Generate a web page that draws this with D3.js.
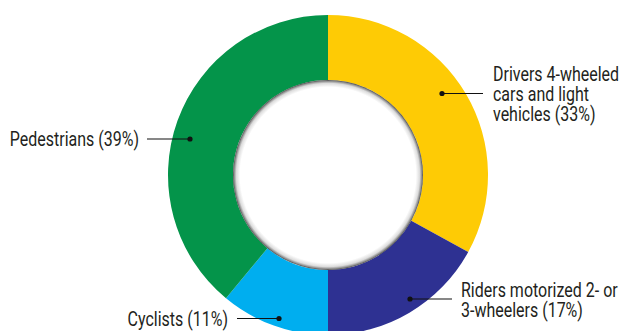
<!DOCTYPE html>
<html>
<head>
<meta charset="utf-8">
<script src="https://cdn.jsdelivr.net/npm/d3@7"></script>
<style>
  html, body { margin: 0; padding: 0; background: #fff; }
  svg { display: block; }
  text { font-family: Roboto, "Liberation Sans", sans-serif; fill: #231f20; }
</style>
</head>
<body>
<svg id="chart" width="626" height="331"></svg>
<script>
// Road traffic deaths by type of road user (share, %)
const categories = ["Drivers 4-wheeled cars and light vehicles", "Riders motorized 2- or 3-wheelers", "Cyclists", "Pedestrians"];
const shares = [33, 17, 11, 39];
const colors = ["#fecb05", "#2e3192", "#00aeef", "#04944a"];
const labelLines = [
  ["Drivers 4-wheeled", "cars and light", "vehicles (33%)"],
  ["Riders motorized 2- or", "3-wheelers (17%)"],
  ["Cyclists (11%)"],
  ["Pedestrians (39%)"]
];

const svg = d3.select("#chart");
const cx = 328, cy = 175, outerR = 160, innerR = 95;

const data = categories.map((c, i) => ({ name: c, value: shares[i], color: colors[i], lines: labelLines[i] }));

const pie = d3.pie().value(d => d.value).sort(null);
const arc = d3.arc().innerRadius(innerR).outerRadius(outerR);
const arcs = pie(data);

const g = svg.append("g").attr("transform", `translate(${cx},${cy})`);

g.selectAll("path.slice")
  .data(arcs)
  .join("path")
  .attr("class", "slice")
  .attr("d", arc)
  .attr("fill", d => d.data.color);

// Hole with soft inset shading at its rim
const defs = svg.append("defs");
const rg = defs.append("radialGradient").attr("id", "holeShade");
rg.append("stop").attr("offset", "0.925").attr("stop-color", "#ffffff");
rg.append("stop").attr("offset", "0.965").attr("stop-color", "#dcdcdc");
rg.append("stop").attr("offset", "0.988").attr("stop-color", "#8a8a8a");
rg.append("stop").attr("offset", "1").attr("stop-color", "#444444");

g.append("circle")
  .attr("r", innerR)
  .attr("fill", "url(#holeShade)");

// Leader lines, anchor dots and labels
const dotRadius = 2.6;
const leaders = [
  { dot: [442, 93.5], end: 483, textX: 493, baseY: 81, anchor: "start" },
  { dot: [410, 299], end: 452, textX: 461, baseY: 297, anchor: "start" },
  { dot: [279, 318.5], end: 237, textX: 228, baseY: 326, anchor: "end" },
  { dot: [190, 139], end: 147, textX: 139, baseY: 146, anchor: "end" }
];

// condensed look: narrow the glyphs horizontally around each label's anchor
const squeeze = 0.82;

data.forEach((d, i) => {
  const L = leaders[i];
  svg.append("line")
    .attr("x1", L.dot[0]).attr("y1", L.dot[1])
    .attr("x2", L.end).attr("y2", L.dot[1])
    .attr("stroke", "#111").attr("stroke-width", 1.2);
  svg.append("circle")
    .attr("cx", L.dot[0]).attr("cy", L.dot[1])
    .attr("r", dotRadius).attr("fill", "#111");
  const t = svg.append("text")
    .attr("transform", `translate(${L.textX},${L.baseY}) scale(${squeeze},1)`)
    .attr("text-anchor", L.anchor)
    .style("font-size", "19.5px");
  d.lines.forEach((line, j) => {
    t.append("tspan").attr("x", 0).attr("dy", j === 0 ? 0 : 20).text(line);
  });
});
</script>
</body>
</html>
